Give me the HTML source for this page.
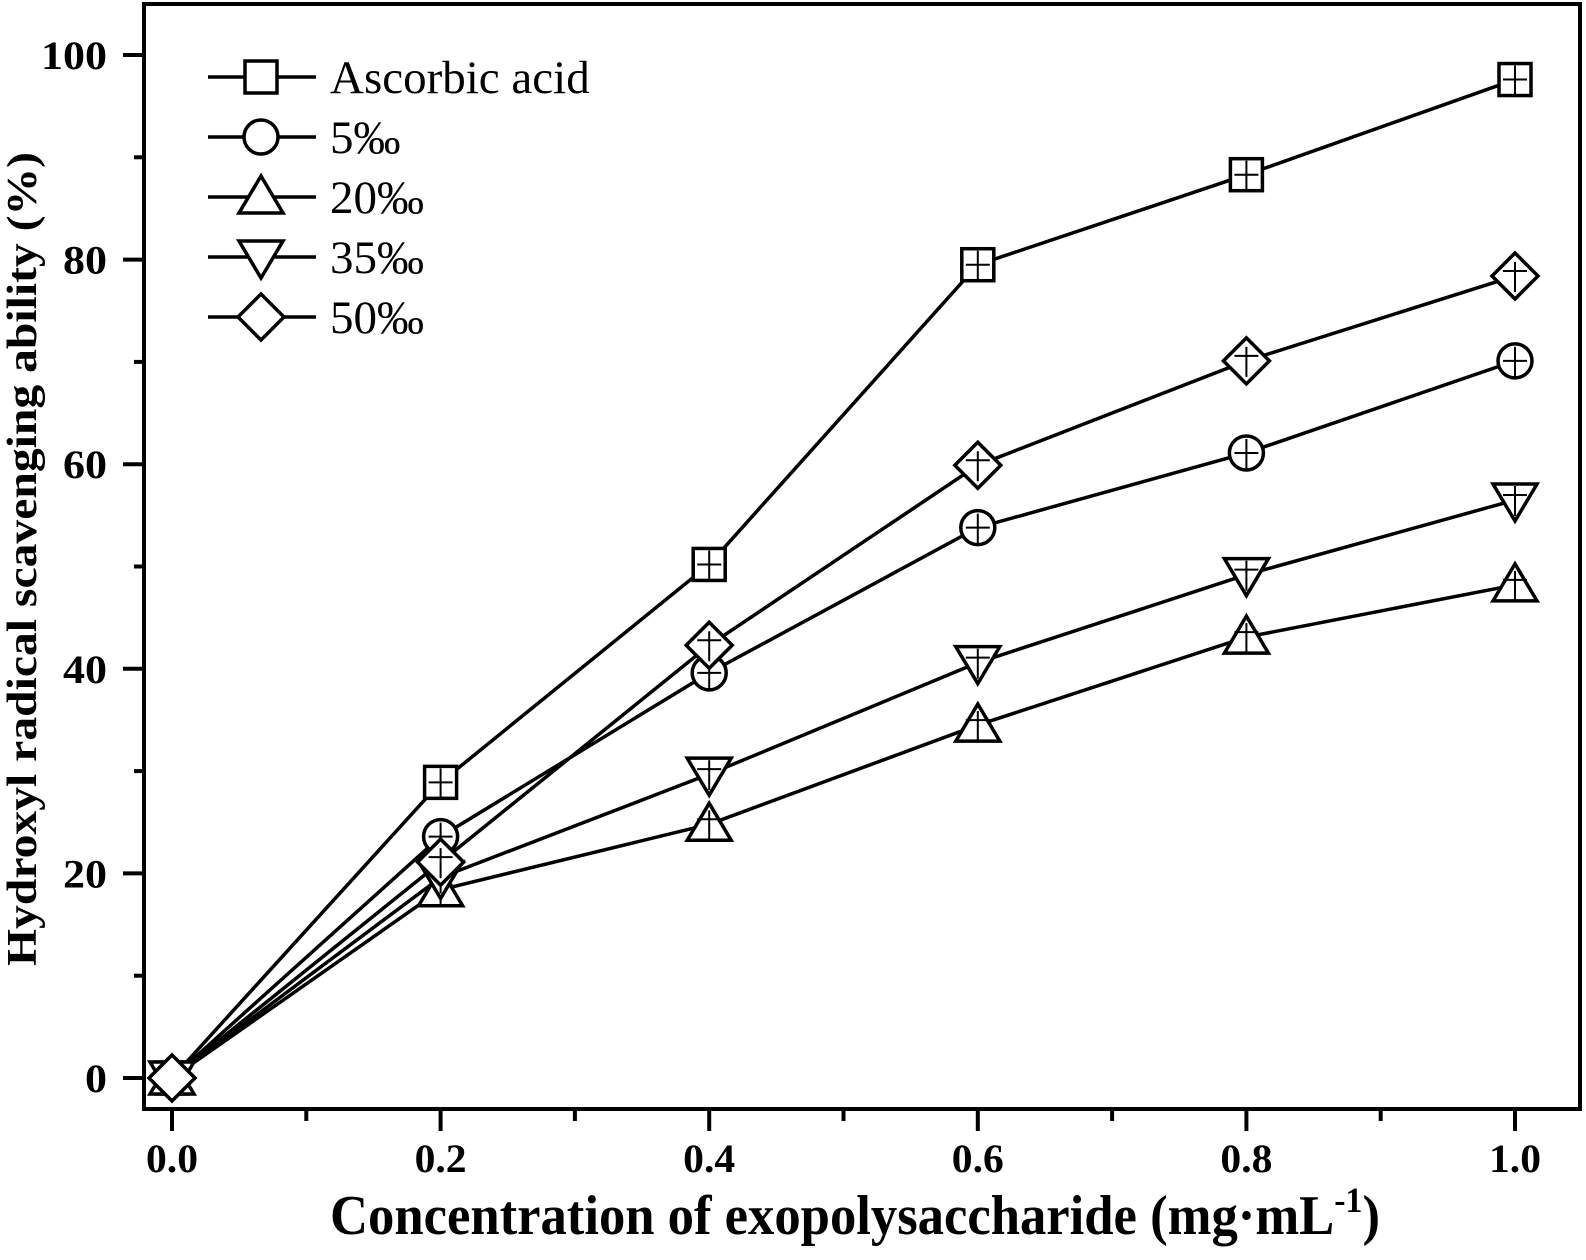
<!DOCTYPE html>
<html><head><meta charset="utf-8"><style>
html,body{margin:0;padding:0;background:#fff;}
svg{display:block;font-family:"Liberation Serif",serif;}
</style></head><body>
<svg id="chart" width="1586" height="1260" viewBox="0 0 1586 1260" xmlns="http://www.w3.org/2000/svg">
<rect x="144" y="4" width="1436" height="1105" fill="none" stroke="#000" stroke-width="4"/>
<g id="axes"></g>
<g id="series"></g>
<g id="legend"></g>
<text x="330" y="1234" font-size="56" font-weight="bold" textLength="1050" lengthAdjust="spacingAndGlyphs">Concentration of exopolysaccharide (mg·mL<tspan dy="-22" font-size="36">-1</tspan><tspan dy="22">)</tspan></text>
<text transform="translate(36,966) rotate(-90)" font-size="42" font-weight="bold" textLength="814" lengthAdjust="spacingAndGlyphs">Hydroxyl radical scavenging ability (%)</text>
</svg>
<script>
const xValues = [0, 0.2, 0.4, 0.6, 0.8, 1.0];
const ascorbic = [0, 28.9, 50.2, 79.5, 88.3, 97.6];
const s5 = [0, 23.6, 39.6, 53.8, 61.1, 70.1];
const s20 = [0, 18.4, 24.8, 34.5, 43.1, 48.2];
const s35 = [0, 19.6, 29.7, 40.6, 49.2, 56.5];
const s50 = [0, 21.1, 42.3, 59.9, 70.1, 78.4];
const seriesNames = ["Ascorbic acid", "5‰", "20‰", "35‰", "50‰"];
const xTickLabels = ["0.0","0.2","0.4","0.6","0.8","1.0"];
const yTickLabels = ["0","20","40","60","80","100"];

const NS="http://www.w3.org/2000/svg";
function X(v){return 172 + v*1343;}
function Y(v){return 1078 - v*10.23;}
function mk(tag,attrs,parent){const e=document.createElementNS(NS,tag);for(const k in attrs)e.setAttribute(k,attrs[k]);parent.appendChild(e);return e;}
const axes=document.getElementById('axes');
for(let i=0;i<=10;i++){const v=i/10;const major=i%2===0;
 const t=mk('line',{x1:X(v),x2:X(v),y1:1109,y2:major?1131:1121,stroke:'#000','stroke-width':4},axes);
 
 }
xTickLabels.forEach((s,i)=>{const t=mk('text',{x:X(parseFloat(s)),y:1172,'text-anchor':'middle','font-size':40,'font-weight':'bold',textLength:52,lengthAdjust:'spacingAndGlyphs'},axes);t.textContent=s;
 
 });
for(let i=0;i<=10;i++){const v=i*10;const major=i%2===0;
 const t=mk('line',{x1:major?123:134,x2:144,y1:Y(v),y2:Y(v),stroke:'#000','stroke-width':4},axes);
 
 }
yTickLabels.forEach(s=>{const t=mk('text',{x:107,y:Y(parseFloat(s))+14,'text-anchor':'end','font-size':40,'font-weight':'bold',textLength:s.length*22,lengthAdjust:'spacingAndGlyphs'},axes);t.textContent=s;
 
 });

function marker(type,cx,cy,parent){const st={fill:'#fff',stroke:'#000','stroke-width':3.5};let e;
 if(type==='square')e=mk('rect',Object.assign({x:cx-16,y:cy-16,width:32,height:32},st),parent);
 else if(type==='circle')e=mk('circle',Object.assign({cx:cx,cy:cy,r:17},st),parent);
 else if(type==='up')e=mk('polygon',Object.assign({points:`${cx},${cy-21} ${cx+22},${cy+16} ${cx-22},${cy+16}`},st),parent);
 else if(type==='down')e=mk('polygon',Object.assign({points:`${cx},${cy+21} ${cx+22},${cy-16} ${cx-22},${cy-16}`},st),parent);
 else e=mk('polygon',Object.assign({points:`${cx},${cy-23} ${cx+23},${cy} ${cx},${cy+23} ${cx-23},${cy}`},st),parent);
 return e;}
const types=['square','circle','up','down','diamond'];
const data=[ascorbic,s5,s20,s35,s50];
const sg=document.getElementById('series');
data.forEach((arr,si)=>{const g=mk('g',{},sg);
 
 
 const pts=arr.map((v,i)=>X(xValues[i])+','+Y(v)).join(' ');
 mk('polyline',{points:pts,fill:'none',stroke:'#000','stroke-width':3.5},g);});
data.forEach((arr,si)=>{arr.forEach((v,i)=>{const cx=X(xValues[i]),cy=Y(v);
 const m=marker(types[si],cx,cy,sg);
 
 
 if(i>0){const capY=(si<2)?cy:cy-5;
  mk('line',{x1:cx,x2:cx,y1:cy-14,y2:cy+16,stroke:'#000','stroke-width':2},sg);
  mk('line',{x1:cx-12,x2:cx+12,y1:capY,y2:capY,stroke:'#000','stroke-width':2},sg);}
 });});
const lg=document.getElementById('legend');
seriesNames.forEach((n,i)=>{const y=77+i*60;const g=mk('g',{},lg);
 
 
 mk('line',{x1:208,x2:316,y1:y,y2:y,stroke:'#000','stroke-width':3.5},g);
 marker(types[i],261,y,g);
 const t=mk('text',{x:330,y:y+16,'font-size':47},g);t.textContent=n;});
</script>
</body></html>
